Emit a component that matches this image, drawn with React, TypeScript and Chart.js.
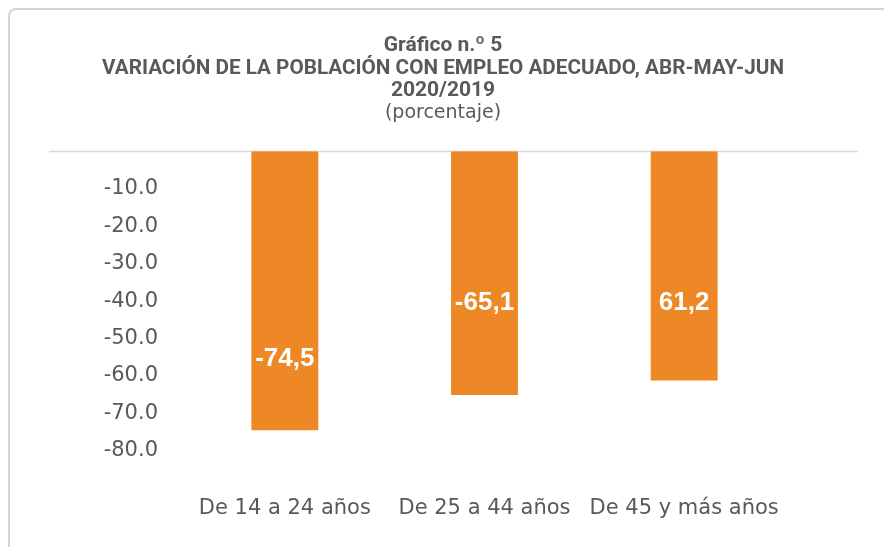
import React, { useEffect, useRef } from "react";
import { Chart, registerables } from "chart.js";

Chart.register(...registerables);

const categories = ["De 14 a 24 años", "De 25 a 44 años", "De 45 y más años"];
const values = [-74.5, -65.1, -61.2];
const valueLabels = ["-74,5", "-65,1", "61,2"];
const titleLines = [
  "Gráfico n.º 5",
  "VARIACIÓN DE LA POBLACIÓN CON EMPLEO ADECUADO, ABR-MAY-JUN",
  "2020/2019",
];
const subtitleText = "(porcentaje)";

const TEXT = "#595959";
const BAR = "#EE8827";

const labelFractions = [0.743, 0.62, 0.66];

const zeroLinePlugin = {
  id: "zeroLine",
  beforeDatasetsDraw(chart: any) {
    const { ctx, scales } = chart;
    const y = Math.round(scales.y.getPixelForValue(0)) + 0.5;
    ctx.save();
    ctx.strokeStyle = "#d9d9d9";
    ctx.lineWidth = 1.5;
    ctx.beginPath();
    ctx.moveTo(39, y);
    ctx.lineTo(848, y);
    ctx.stroke();
    ctx.restore();
  },
};

const valueLabelPlugin = {
  id: "valueLabels",
  afterDatasetsDraw(chart: any) {
    const { ctx } = chart;
    const meta = chart.getDatasetMeta(0);
    ctx.save();
    ctx.fillStyle = "#ffffff";
    ctx.font = "bold 26px 'Liberation Sans', Arial, sans-serif";
    ctx.textAlign = "center";
    ctx.textBaseline = "middle";
    meta.data.forEach((el: any, i: number) => {
      const y = el.base + labelFractions[i] * (el.y - el.base);
      ctx.fillText(valueLabels[i], el.x, y);
    });
    ctx.restore();
  },
};

export default function App() {
  const ref = useRef<HTMLCanvasElement>(null);
  useEffect(() => {
    if (!ref.current) return;
    const chart = new Chart(ref.current, {
      type: "bar",
      data: {
        labels: categories,
        datasets: [
          {
            data: values,
            backgroundColor: BAR,
            borderWidth: 0,
            barPercentage: 0.335,
            categoryPercentage: 1,
          },
        ],
      },
      options: {
        responsive: false,
        animation: false,
        layout: { padding: { left: 92, right: 92, top: 0, bottom: 4 } },
        plugins: {
          legend: { display: false },
          tooltip: { enabled: false },
          title: {
            display: true,
            text: titleLines,
            color: TEXT,
            font: { family: "Roboto, 'Liberation Sans', sans-serif", size: 21, weight: "bold", lineHeight: 1.07 },
            padding: { top: 25, bottom: 0 },
          },
          subtitle: {
            display: true,
            text: subtitleText,
            color: TEXT,
            font: { family: "'DejaVu Sans', sans-serif", size: 19, weight: "normal", lineHeight: 1.1 },
            padding: { top: 0, bottom: 28 },
          },
        },
        scales: {
          x: {
            grid: { display: false, drawTicks: false },
            border: { display: false },
            ticks: {
              color: TEXT,
              font: { family: "'DejaVu Sans', sans-serif", size: 21 },
              padding: 45,
              maxRotation: 0,
              autoSkip: false,
            },
          },
          y: {
            min: -80,
            max: 0,
            grid: { display: false, drawTicks: false },
            border: { display: false },
            afterFit: (scale: any) => {
              scale.width = 83;
            },
            ticks: {
              stepSize: 10,
              color: TEXT,
              font: { family: "'DejaVu Sans', sans-serif", size: 21 },
              padding: 27,
              callback: (v: any) => (v === 0 ? "" : Number(v).toFixed(1)),
            },
          },
        },
      },
      plugins: [zeroLinePlugin, valueLabelPlugin],
    });
    return () => chart.destroy();
  }, []);

  return (
    <div
      style={{
        width: 882,
        height: 537,
        borderTop: "2px solid #d4d4d4",
        borderLeft: "2px solid #d4d4d4",
        borderTopLeftRadius: 8,
        background: "#fff",
        overflow: "hidden",
      }}
    >
      <canvas ref={ref} width={866} height={560} style={{ display: "block" }} />
    </div>
  );
}
